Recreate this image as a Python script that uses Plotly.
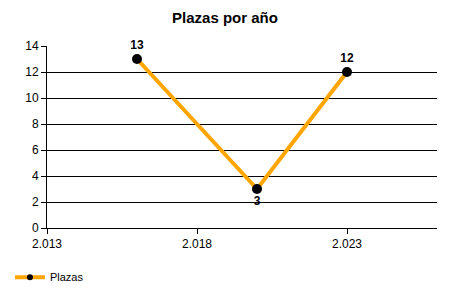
import plotly.graph_objects as go

years = [2016, 2020, 2023]
plazas = [13, 3, 12]
label_pos = ["top center", "bottom center", "top center"]
x_ticks = [2013, 2018, 2023]
y_ticks = [0, 2, 4, 6, 8, 10, 12, 14]

fig = go.Figure()
fig.add_trace(go.Scatter(
    x=years, y=plazas, name="Plazas", mode="lines+markers+text",
    line=dict(color="#FFA500", width=4),
    marker=dict(color="#000000", size=10),
    text=[str(v) for v in plazas], textposition=label_pos,
    textfont=dict(family="Liberation Sans", size=12, color="#000000", weight="bold"),
    cliponaxis=False, showlegend=False,
))
# legend entry (smaller marker, as in the reference legend)
fig.add_trace(go.Scatter(
    x=[None], y=[None], name="Plazas", mode="lines+markers",
    line=dict(color="#FFA500", width=4),
    marker=dict(color="#000000", size=6),
    showlegend=True,
))

fig.update_layout(
    width=450, height=300, autosize=False,
    margin=dict(l=47, r=13, t=46, b=72, autoexpand=False),
    paper_bgcolor="white", plot_bgcolor="white",
    separators=",.",
    font=dict(family="Liberation Sans", size=12, color="#000000"),
    title=dict(text="<b>Plazas por año</b>", x=0.5, xanchor="center", y=0.94, yanchor="middle",
               font=dict(family="Liberation Sans", size=15, color="#000000")),
    showlegend=True,
    legend=dict(orientation="h", x=-0.095, xanchor="left", y=-0.27, yanchor="middle",
                font=dict(family="Liberation Sans", size=11, color="#000000"),
                bgcolor="rgba(0,0,0,0)", itemwidth=30),
    xaxis=dict(range=[2013, 2026], tickvals=x_ticks, tickformat=",d",
               showgrid=False, zeroline=False, showline=True, linecolor="#000000", linewidth=1,
               ticks="outside", ticklen=5, tickcolor="#000000",
               tickfont=dict(family="Liberation Sans", size=12, color="#000000")),
    yaxis=dict(range=[0, 14], tickvals=y_ticks,
               showgrid=True, gridcolor="#000000", gridwidth=1, zeroline=False,
               showline=True, linecolor="#000000", linewidth=1,
               ticks="outside", ticklen=5, tickcolor="#000000",
               tickfont=dict(family="Liberation Sans", size=12, color="#000000")),
)

fig.write_html("out.html")
